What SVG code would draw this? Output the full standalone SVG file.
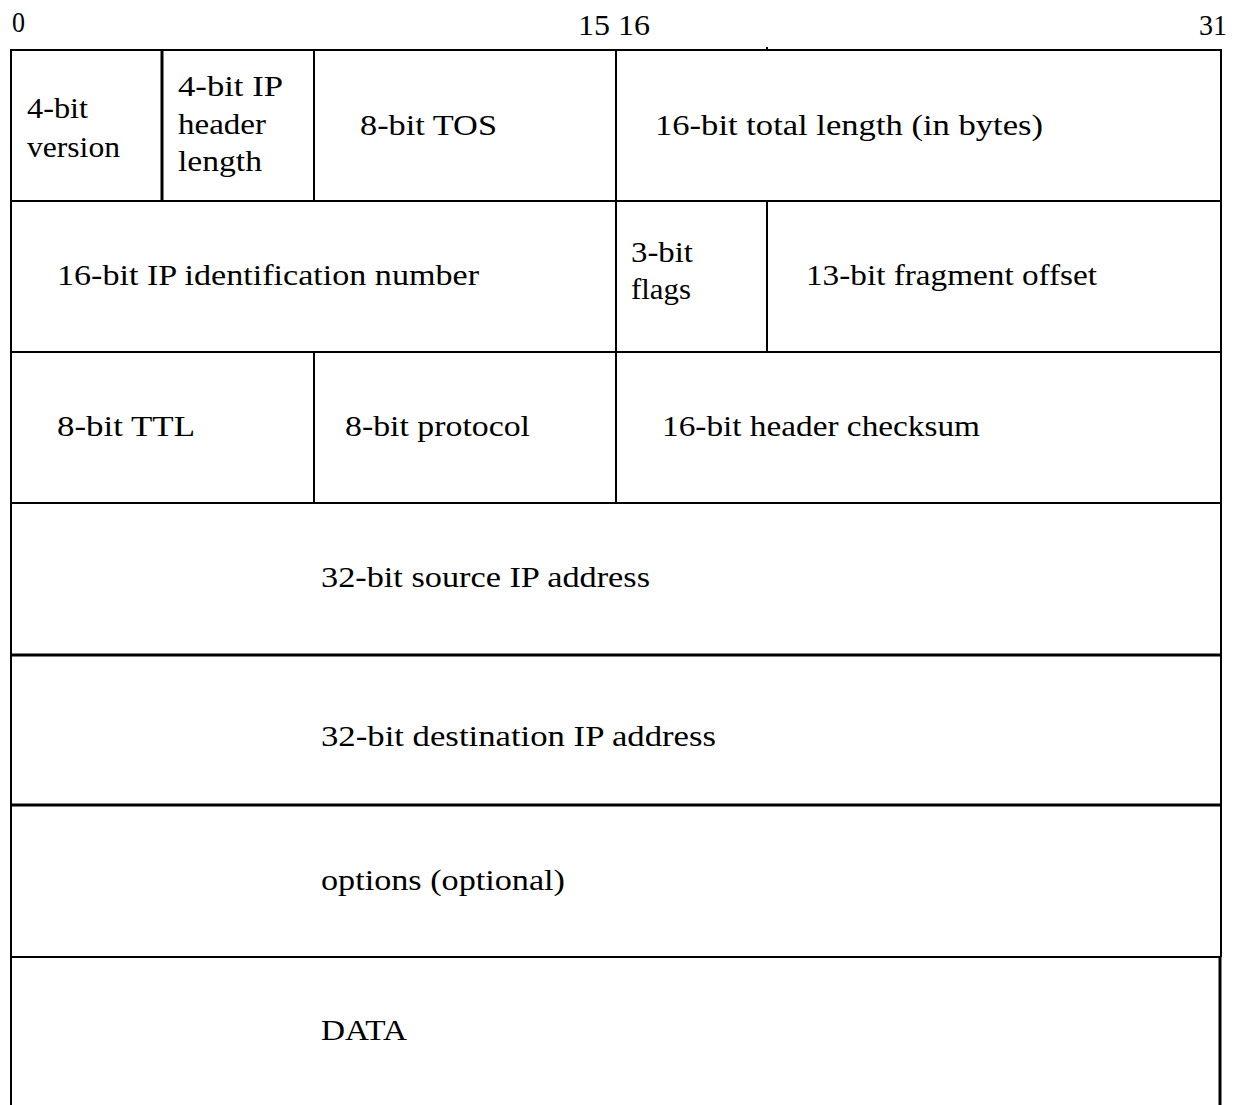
<svg xmlns="http://www.w3.org/2000/svg" width="1241" height="1105" viewBox="0 0 1241 1105">
<style>
text{font-family:"Liberation Serif","DejaVu Serif",serif;font-size:30px;fill:#000}
.l{stroke:#000;stroke-width:2;fill:none}
.t{stroke:#000;stroke-width:3;fill:none}
</style>
<rect width="1241" height="1105" fill="#fff"/>
<g id="bit-labels">
<text x="12" y="32" textLength="13" lengthAdjust="spacingAndGlyphs">0</text>
<text x="578" y="35" textLength="72" lengthAdjust="spacingAndGlyphs">15 16</text>
<text x="1199" y="35" textLength="28" lengthAdjust="spacingAndGlyphs">31</text>
</g>
<g id="connectors">
<line class="l" x1="11" y1="50" x2="1221" y2="50"/>
<line class="l" x1="767" y1="47" x2="767" y2="51"/>
<line class="l" x1="11" y1="49" x2="11" y2="1105"/>
<line class="l" x1="1221" y1="49" x2="1221" y2="957"/>
<line class="t" x1="1220" y1="957" x2="1220" y2="1105"/>
<line class="l" x1="11" y1="201" x2="1221" y2="201"/>
<line class="l" x1="11" y1="352" x2="1221" y2="352"/>
<line class="l" x1="11" y1="503" x2="1221" y2="503"/>
<line class="t" x1="11" y1="655" x2="1221" y2="655"/>
<line class="t" x1="11" y1="805" x2="1221" y2="805"/>
<line class="l" x1="11" y1="957" x2="1221" y2="957"/>
<line class="t" x1="162" y1="50" x2="162" y2="201"/>
<line class="l" x1="314" y1="50" x2="314" y2="201"/>
<line class="l" x1="616" y1="50" x2="616" y2="503"/>
<line class="l" x1="767" y1="201" x2="767" y2="352"/>
<line class="l" x1="314" y1="352" x2="314" y2="503"/>
</g>
<g id="version"><text x="27" y="118" textLength="61" lengthAdjust="spacingAndGlyphs">4-bit</text><text x="27" y="157" textLength="93" lengthAdjust="spacingAndGlyphs">version</text></g>
<g id="ihl"><text x="178" y="96" textLength="105" lengthAdjust="spacingAndGlyphs">4-bit IP</text><text x="178" y="134" textLength="88" lengthAdjust="spacingAndGlyphs">header</text><text x="178" y="171" textLength="84" lengthAdjust="spacingAndGlyphs">length</text></g>
<g id="tos"><text x="360" y="135" textLength="137" lengthAdjust="spacingAndGlyphs">8-bit TOS</text></g>
<g id="total-length"><text x="655" y="135" textLength="388" lengthAdjust="spacingAndGlyphs">16-bit total length (in bytes)</text></g>
<g id="identification"><text x="57" y="285" textLength="422" lengthAdjust="spacingAndGlyphs">16-bit IP identification number</text></g>
<g id="flags"><text x="631" y="262" textLength="62" lengthAdjust="spacingAndGlyphs">3-bit</text><text x="631" y="299" textLength="60" lengthAdjust="spacingAndGlyphs">flags</text></g>
<g id="fragment-offset"><text x="806" y="285" textLength="291" lengthAdjust="spacingAndGlyphs">13-bit fragment offset</text></g>
<g id="ttl"><text x="57" y="436" textLength="138" lengthAdjust="spacingAndGlyphs">8-bit TTL</text></g>
<g id="protocol"><text x="345" y="436" textLength="185" lengthAdjust="spacingAndGlyphs">8-bit protocol</text></g>
<g id="checksum"><text x="662" y="436" textLength="318" lengthAdjust="spacingAndGlyphs">16-bit header checksum</text></g>
<g id="source"><text x="321" y="587" textLength="329" lengthAdjust="spacingAndGlyphs">32-bit source IP address</text></g>
<g id="destination"><text x="321" y="746" textLength="395" lengthAdjust="spacingAndGlyphs">32-bit destination IP address</text></g>
<g id="options"><text x="321" y="890" textLength="244" lengthAdjust="spacingAndGlyphs">options (optional)</text></g>
<g id="data"><text x="321" y="1040" textLength="86" lengthAdjust="spacingAndGlyphs">DATA</text></g>
</svg>
